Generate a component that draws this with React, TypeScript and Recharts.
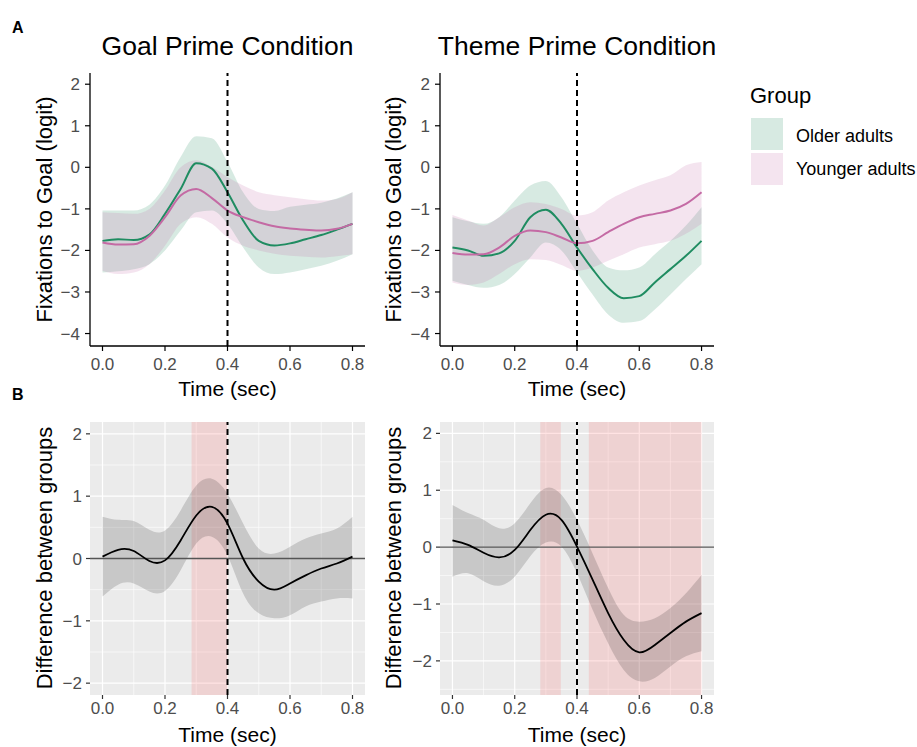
import React from "react";
import {
  Area,
  CartesianGrid,
  ComposedChart,
  Line,
  ReferenceArea,
  ReferenceLine,
  XAxis,
  YAxis,
} from "recharts";

const FONT = "'Liberation Sans', Arial, Helvetica, sans-serif";
const GREEN = "#1f8c61";
const PINK = "#c46aa4";

// time grid (sec)
const time = [0, 0.05, 0.1, 0.15, 0.2, 0.25, 0.3, 0.35, 0.4, 0.45, 0.5, 0.55, 0.6, 0.65, 0.7, 0.75, 0.8];
const xTicks = [0, 0.2, 0.4, 0.6, 0.8];
const fitTicks = [-4, -3, -2, -1, 0, 1, 2];
const diffTicks = [-2, -1, 0, 1, 2];

// Goal prime: fitted logit + CI
const goalOlderFit = [-1.77, -1.73, -1.75, -1.62, -1.12, -0.52, 0.1, -0.03, -0.6, -1.28, -1.77, -1.88, -1.83, -1.73, -1.63, -1.5, -1.36];
const goalOlderLo = [-2.53, -2.5, -2.45, -2.33, -2.0, -1.52, -1.08, -1.04, -1.36, -1.93, -2.41, -2.57, -2.53, -2.45, -2.37, -2.25, -2.09];
const goalOlderHi = [-1.04, -1.04, -1.04, -0.9, -0.44, 0.25, 0.75, 0.7, 0.13, -0.6, -1.0, -1.05, -0.95, -0.9, -0.85, -0.75, -0.6];
const goalYoungerFit = [-1.81, -1.86, -1.85, -1.65, -1.2, -0.68, -0.52, -0.74, -1.04, -1.2, -1.32, -1.42, -1.47, -1.5, -1.52, -1.48, -1.36];
const goalYoungerLo = [-2.49, -2.57, -2.53, -2.33, -1.89, -1.36, -1.2, -1.36, -1.69, -1.89, -2.0, -2.08, -2.13, -2.15, -2.17, -2.14, -2.09];
const goalYoungerHi = [-1.08, -1.1, -1.12, -1.0, -0.56, 0.0, 0.17, 0.01, -0.23, -0.44, -0.6, -0.67, -0.72, -0.77, -0.8, -0.76, -0.6];

// Theme prime: fitted logit + CI
const themeOlderFit = [-1.93, -2.0, -2.13, -2.07, -1.77, -1.2, -1.02, -1.36, -1.93, -2.45, -2.9, -3.15, -3.1, -2.77, -2.45, -2.13, -1.77];
const themeOlderLo = [-2.73, -2.83, -2.9, -2.83, -2.57, -2.17, -1.81, -2.0, -2.53, -3.06, -3.54, -3.74, -3.7, -3.42, -3.06, -2.69, -2.33];
const themeOlderHi = [-1.2, -1.3, -1.36, -1.2, -0.8, -0.44, -0.33, -0.72, -1.36, -2.0, -2.41, -2.48, -2.41, -2.09, -1.77, -1.4, -0.96];
const themeYoungerFit = [-2.06, -2.1, -2.09, -1.93, -1.65, -1.52, -1.56, -1.69, -1.83, -1.77, -1.56, -1.36, -1.2, -1.12, -1.04, -0.88, -0.6];
const themeYoungerLo = [-2.77, -2.83, -2.77, -2.57, -2.33, -2.21, -2.23, -2.35, -2.49, -2.41, -2.25, -2.09, -1.93, -1.85, -1.77, -1.6, -1.36];
const themeYoungerHi = [-1.15, -1.28, -1.4, -1.2, -0.96, -0.84, -0.88, -1.0, -1.16, -1.08, -0.8, -0.6, -0.44, -0.31, -0.19, 0.05, 0.13];

// difference between groups + CI
const goalDiff = [0.03, 0.14, 0.12, -0.04, -0.03, 0.29, 0.69, 0.83, 0.56, 0.0, -0.37, -0.5, -0.4, -0.27, -0.16, -0.08, 0.03];
const goalDiffLo = [-0.61, -0.42, -0.4, -0.53, -0.52, -0.19, 0.24, 0.35, 0.05, -0.56, -0.88, -0.96, -0.91, -0.77, -0.69, -0.64, -0.64];
const goalDiffHi = [0.67, 0.62, 0.6, 0.46, 0.45, 0.77, 1.17, 1.28, 1.04, 0.56, 0.16, 0.08, 0.19, 0.32, 0.4, 0.48, 0.67];
const themeDiff = [0.12, 0.04, -0.1, -0.18, -0.05, 0.3, 0.57, 0.48, 0.01, -0.57, -1.16, -1.63, -1.85, -1.72, -1.51, -1.31, -1.16];
const themeDiffLo = [-0.52, -0.46, -0.6, -0.68, -0.52, -0.16, 0.08, 0.01, -0.46, -1.1, -1.69, -2.16, -2.36, -2.3, -2.1, -1.92, -1.83];
const themeDiffHi = [0.74, 0.6, 0.48, 0.33, 0.42, 0.77, 1.04, 0.92, 0.48, -0.11, -0.72, -1.19, -1.31, -1.25, -1.07, -0.81, -0.49];

// significant windows
const goalSig = [[0.285, 0.4]];
const themeSig = [[0.282, 0.348], [0.438, 0.8]];

const fmtX = (v: number) => v.toFixed(1);
const fmtY = (v: number) => String(v).replace("-", "\u2212");

const goalFit = time.map((t, i) => ({
  t,
  oFit: goalOlderFit[i],
  oBand: [goalOlderLo[i], goalOlderHi[i]],
  yFit: goalYoungerFit[i],
  yBand: [goalYoungerLo[i], goalYoungerHi[i]],
}));
const themeFit = time.map((t, i) => ({
  t,
  oFit: themeOlderFit[i],
  oBand: [themeOlderLo[i], themeOlderHi[i]],
  yFit: themeYoungerFit[i],
  yBand: [themeYoungerLo[i], themeYoungerHi[i]],
}));
const goalDiffRows = time.map((t, i) => ({ t, d: goalDiff[i], band: [goalDiffLo[i], goalDiffHi[i]] }));
const themeDiffRows = time.map((t, i) => ({ t, d: themeDiff[i], band: [themeDiffLo[i], themeDiffHi[i]] }));

const tickStyle = { fill: "#4D4D4D", fontSize: 17, fontFamily: FONT };

function FitPanel({ left, width, data }: { left: number; width: number; data: any[] }) {
  return (
    <div style={{ position: "absolute", left, top: 60 }}>
      <ComposedChart width={width} height={316} data={data} margin={{ top: 13, right: 5, bottom: 0, left: 0 }}>
        <XAxis
          dataKey="t"
          type="number"
          domain={[-0.04, 0.84]}
          ticks={xTicks}
          tickFormatter={fmtX}
          height={30}
          tick={tickStyle}
          tickSize={5}
          tickMargin={7}
          axisLine={{ stroke: "#000", strokeWidth: 1.3 }}
          tickLine={{ stroke: "#000", strokeWidth: 1.2 }}
          allowDataOverflow
        />
        <YAxis
          type="number"
          domain={[-4.3, 2.27]}
          ticks={fitTicks}
          tickFormatter={fmtY}
          width={60}
          tick={tickStyle}
          tickSize={5}
          tickMargin={5}
          axisLine={{ stroke: "#000", strokeWidth: 1.3 }}
          tickLine={{ stroke: "#000", strokeWidth: 1.2 }}
          allowDataOverflow
        />
        <Area type="monotone" dataKey="oBand" fill={GREEN} fillOpacity={0.18} stroke="none" isAnimationActive={false} />
        <Area type="monotone" dataKey="yBand" fill={PINK} fillOpacity={0.18} stroke="none" isAnimationActive={false} />
        <Line type="monotone" dataKey="oFit" stroke={GREEN} strokeWidth={2} dot={false} isAnimationActive={false} />
        <Line type="monotone" dataKey="yFit" stroke={PINK} strokeWidth={2} dot={false} isAnimationActive={false} />
        <ReferenceLine x={0.4} stroke="#000" strokeWidth={2} strokeDasharray="6 4" />
      </ComposedChart>
    </div>
  );
}

function DiffPanel({
  left,
  width,
  data,
  domain,
  sig,
  minorY,
}: {
  left: number;
  width: number;
  data: any[];
  domain: number[];
  sig: number[][];
  minorY: number[];
}) {
  return (
    <div style={{ position: "absolute", left, top: 400 }}>
      <ComposedChart width={width} height={325} data={data} margin={{ top: 22, right: 5, bottom: 0, left: 0 }}>
        <CartesianGrid
          fill="#EBEBEB"
          stroke="#fff"
          strokeWidth={0.6}
          horizontalValues={minorY}
          verticalValues={[0.1, 0.3, 0.5, 0.7]}
        />
        <CartesianGrid stroke="#fff" strokeWidth={1.2} horizontalValues={diffTicks} verticalValues={xTicks} />
        <XAxis
          dataKey="t"
          type="number"
          domain={[-0.04, 0.84]}
          ticks={xTicks}
          tickFormatter={fmtX}
          height={30}
          tick={tickStyle}
          tickSize={4}
          tickMargin={3}
          axisLine={false}
          tickLine={{ stroke: "#333", strokeWidth: 1.2 }}
          allowDataOverflow
        />
        <YAxis
          type="number"
          domain={domain}
          ticks={diffTicks}
          tickFormatter={fmtY}
          width={60}
          tick={tickStyle}
          tickSize={4}
          tickMargin={4}
          axisLine={false}
          tickLine={{ stroke: "#333", strokeWidth: 1.2 }}
          allowDataOverflow
        />
        {sig.map(([a, b], i) => (
          <ReferenceArea key={i} x1={a} x2={b} fill="#ff5a5a" fillOpacity={0.17} stroke="none" ifOverflow="visible" />
        ))}
        <Area type="natural" dataKey="band" fill="#000" fillOpacity={0.15} stroke="none" isAnimationActive={false} />
        <ReferenceLine y={0} stroke="#555" strokeWidth={1.3} />
        <Line type="natural" dataKey="d" stroke="#000" strokeWidth={1.8} dot={false} isAnimationActive={false} />
        <ReferenceLine x={0.4} stroke="#000" strokeWidth={2} strokeDasharray="6 4" />
      </ComposedChart>
    </div>
  );
}

export default function App() {
  return (
    <div
      style={{
        position: "absolute",
        left: 0,
        top: 0,
        width: 917,
        height: 747,
        background: "#fff",
        fontFamily: FONT,
        overflow: "hidden",
      }}
    >
      <FitPanel left={30} width={340} data={goalFit} />
      <FitPanel left={380} width={339} data={themeFit} />
      <DiffPanel left={30} width={340} data={goalDiffRows} domain={[-2.19, 2.19]} sig={goalSig} minorY={[-1.5, -0.5, 0.5, 1.5]} />
      <DiffPanel
        left={380}
        width={339}
        data={themeDiffRows}
        domain={[-2.6, 2.2]}
        sig={themeSig}
        minorY={[-2.5, -1.5, -0.5, 0.5, 1.5]}
      />
      <svg width={917} height={747} style={{ position: "absolute", left: 0, top: 0, pointerEvents: "none" }}>
        <g fontFamily={FONT} fill="#000">
          <text x={12} y={33} fontSize={16} fontWeight="bold">A</text>
          <text x={12} y={400} fontSize={16} fontWeight="bold">B</text>
          <text x={227.5} y={55} fontSize={26.5} textAnchor="middle">Goal Prime Condition</text>
          <text x={577} y={55} fontSize={26.5} textAnchor="middle">Theme Prime Condition</text>
          <text x={227.5} y={396} fontSize={21} textAnchor="middle">Time (sec)</text>
          <text x={577} y={396} fontSize={21} textAnchor="middle">Time (sec)</text>
          <text x={227.5} y={742} fontSize={21} textAnchor="middle">Time (sec)</text>
          <text x={577} y={742} fontSize={21} textAnchor="middle">Time (sec)</text>
          <text transform="translate(52,209.5) rotate(-90)" fontSize={22} textAnchor="middle">Fixations to Goal (logit)</text>
          <text transform="translate(401,209.5) rotate(-90)" fontSize={22} textAnchor="middle">Fixations to Goal (logit)</text>
          <text transform="translate(52,558) rotate(-90)" fontSize={22} textAnchor="middle">Difference between groups</text>
          <text transform="translate(401,558) rotate(-90)" fontSize={22} textAnchor="middle">Difference between groups</text>
          <text x={750} y={103} fontSize={22}>Group</text>
          <rect x={751} y={118} width={32} height={32} fill={GREEN} fillOpacity={0.18} />
          <rect x={751} y={153} width={32} height={32} fill={PINK} fillOpacity={0.18} />
          <text x={796} y={141.5} fontSize={18}>Older adults</text>
          <text x={796} y={175} fontSize={18}>Younger adults</text>
        </g>
      </svg>
    </div>
  );
}
